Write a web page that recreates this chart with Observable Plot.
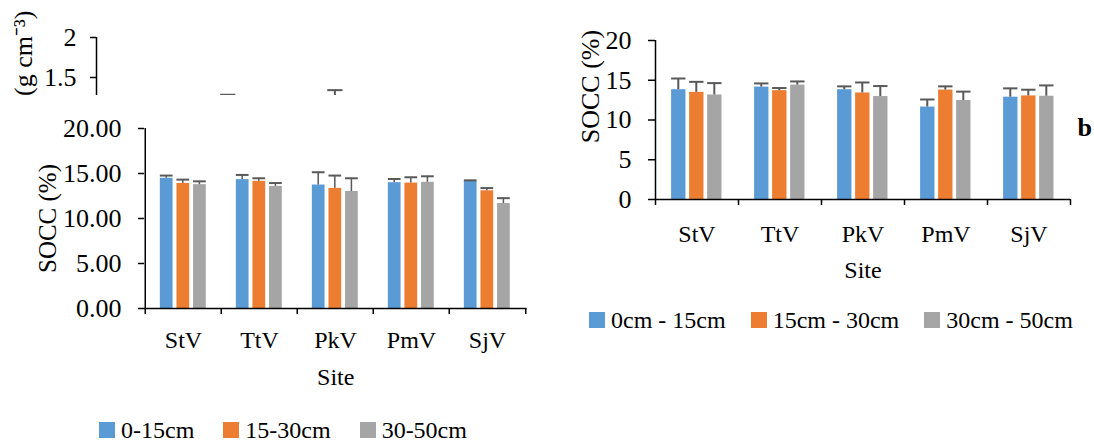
<!DOCTYPE html>
<html><head><meta charset="utf-8">
<script src="https://cdn.jsdelivr.net/npm/d3@7"></script>
<script src="https://cdn.jsdelivr.net/npm/@observablehq/plot@0.6"></script>
<style>
html,body{margin:0;padding:0;background:#fff;}
#wrap{position:relative;width:1094px;height:442px;overflow:hidden;font-family:'Liberation Serif','Times New Roman',serif;font-size:24px;color:#000;}
.box{position:absolute;overflow:hidden;}
.legend{position:absolute;display:flex;align-items:center;white-space:nowrap;line-height:1.1;}
.item{display:flex;align-items:center;gap:6px;}
.sw{display:inline-block;width:16px;height:16px;}
</style></head><body><div id="wrap"></div>
<script>
// ---------- data ----------
const sites = ["StV", "TtV", "PkV", "PmV", "SjV"];
const colors = ["#5B9BD5", "#ED7D31", "#A5A5A5"];
const depthsA = ["0-15cm", "15-30cm", "30-50cm"];
const depthsB = ["0cm - 15cm", "15cm - 30cm", "30cm - 50cm"];

// chart a (left): SOCC (%) means and error (+) per depth
const socA_0_15  = [14.47, 14.32, 13.72, 13.98, 14.13];
const socA_15_30 = [13.90, 14.13, 13.35, 13.94, 13.08];
const socA_30_50 = [13.76, 13.57, 13.00, 14.02, 11.66];
const errA_0_15  = [0.30, 0.52, 1.42, 0.41, 0.11];
const errA_15_30 = [0.42, 0.34, 1.42, 0.64, 0.30];
const errA_30_50 = [0.37, 0.37, 1.47, 0.67, 0.60];

// chart b (right)
const socB_0_15  = [13.81, 14.14, 13.81, 11.63, 12.87];
const socB_15_30 = [13.48, 13.69, 13.40, 13.77, 13.03];
const socB_30_50 = [13.15, 14.39, 12.95, 12.45, 12.99];
const errB_0_15  = [1.41, 0.46, 0.42, 0.95, 1.11];
const errB_15_30 = [1.32, 0.33, 1.32, 0.46, 0.78];
const errB_30_50 = [1.49, 0.46, 1.32, 1.12, 1.36];

// cropped chart above (bulk density, g cm-3): only two error-bar tops are visible
const bdSites = ["TtV", "PkV"];
const bdDepthIdx = [1, 2];
const bdUpper = [1.284, 1.342];

const yTicksA = [0, 5, 10, 15, 20];
const yTicksB = [0, 5, 10, 15, 20];
const yTicksBD = [1.5, 2];

// ---------- helpers ----------
const errColor = "#595959";
const font = "'Liberation Serif','Times New Roman',serif";

function rowsFrom(means, errs) {
  return means.flatMap((arr, k) => sites.map((s, i) => ({site: s, k, value: arr[i], err: errs[k][i]})));
}

function geometry(bw) {
  const start = 0.194 * bw, step = 0.217 * bw, w = 0.173 * bw;
  return [0, 1, 2].map(k => {
    const l = start + k * step;
    return {l, r: bw - l - w, c: l + w / 2};
  });
}

function barChart(o) {
  const bw = (o.width - o.marginLeft - o.marginRight) / sites.length;
  const innerH = o.height - o.marginTop - o.marginBottom;
  const g = geometry(bw);
  const marks = [];
  for (let k = 0; k < 3; k++) {
    const rk = o.rows.filter(d => d.k === k);
    marks.push(Plot.barY(rk, {x: "site", y: "value", fill: colors[k], insetLeft: g[k].l, insetRight: g[k].r}));
    marks.push(Plot.barY(rk, {x: "site", y1: "value", y2: d => d.value + d.err, fill: errColor,
      insetLeft: g[k].c - 1, insetRight: bw - g[k].c - 1}));
    marks.push(Plot.tickY(rk, {x: "site", y: d => d.value + d.err, stroke: errColor, strokeWidth: 2,
      insetLeft: g[k].l, insetRight: g[k].r}));
  }
  marks.push(
    Plot.ruleY([o.yDomain[0]], {stroke: "#000", strokeWidth: 1.5}),
    Plot.ruleX([sites[0]], {x: d => d, dx: -bw / 2, y1: o.yDomain[0], y2: o.yDomain[1], stroke: "#000", strokeWidth: 1.5}),
    Plot.ruleX(sites, {x: d => d, dx: -bw / 2, insetTop: innerH, insetBottom: -6, stroke: "#000", strokeWidth: 1.5}),
    Plot.ruleX([sites[sites.length - 1]], {x: d => d, dx: bw / 2, insetTop: innerH, insetBottom: -6, stroke: "#000", strokeWidth: 1.5}),
    Plot.axisY({ticks: o.yTicks, tickFormat: o.fmt, tickSize: o.tickSize, tickPadding: o.tickPadding,
      strokeWidth: 1.5, stroke: "#000", fill: "#000", fontSize: o.tickFont, label: null}),
    Plot.axisX({tickSize: 0, tickPadding: o.xPad, fill: "#000", fontSize: 24, label: null}),
    Plot.text(["Site"], {text: d => d, frameAnchor: "bottom", textAnchor: "middle", lineAnchor: "bottom", dy: o.siteDy, fontSize: 24, fill: "#000"}),
    Plot.text(["SOCC (%)"], {text: d => d, frameAnchor: o.yLabelAnchor, textAnchor: "middle", lineAnchor: "middle",
      rotate: -90, dx: o.yLabelDx, dy: o.yLabelDy, fontSize: o.yLabelFont, fill: "#000"})
  );
  if (o.extra) marks.push(...o.extra);
  return Plot.plot({
    width: o.width, height: o.height,
    marginLeft: o.marginLeft, marginRight: o.marginRight, marginTop: o.marginTop, marginBottom: o.marginBottom,
    style: {fontFamily: font, fontSize: "24px", color: "#000", background: "none", overflow: "visible"},
    x: {type: "band", domain: sites, paddingInner: 0, paddingOuter: 0},
    y: {domain: o.yDomain},
    marks
  });
}

const wrap = document.getElementById("wrap");
function place(node, left, top, w, h) {
  const d = document.createElement("div");
  d.className = "box";
  d.style.left = left + "px"; d.style.top = top + "px";
  d.style.width = w + "px"; d.style.height = h + "px";
  d.appendChild(node);
  wrap.appendChild(d);
}

// ---------- cropped top chart ----------
{
  const width = 545, height = 96, marginLeft = 96, marginRight = 9, marginTop = 37;
  const bw = (width - marginLeft - marginRight) / sites.length;
  const g = geometry(bw);
  const rows = bdSites.map((s, i) => ({site: s, k: bdDepthIdx[i], upper: bdUpper[i]}));
  const yDomain = [1.2625, 2];
  const marks = [];
  for (let k = 0; k < 3; k++) {
    const rk = rows.filter(d => d.k === k);
    if (!rk.length) continue;
    marks.push(Plot.barY(rk, {x: "site", y1: yDomain[0], y2: "upper", fill: errColor,
      insetLeft: g[k].c - 1, insetRight: bw - g[k].c - 1}));
    marks.push(Plot.tickY(rk, {x: "site", y: "upper", stroke: errColor, strokeWidth: 2,
      insetLeft: g[k].l, insetRight: g[k].r}));
  }
  marks.push(
    Plot.ruleX([sites[0]], {x: d => d, dx: -bw / 2, y1: yDomain[0], y2: yDomain[1], stroke: "#000", strokeWidth: 1.5}),
    Plot.axisY({ticks: yTicksBD, tickFormat: d => String(d), tickSize: 6, tickPadding: 14,
      strokeWidth: 1.5, stroke: "#000", fill: "#000", fontSize: 26, label: null}),
    Plot.text(["(g cm⁻³)"], {text: d => d, frameAnchor: "top-left", rotate: -90, textAnchor: "end", lineAnchor: "middle",
      dx: -73, dy: -27, fontSize: 26, fill: "#000"})
  );
  const p = Plot.plot({
    width, height, marginLeft, marginRight, marginTop, marginBottom: 0,
    style: {fontFamily: font, fontSize: "24px", color: "#000", background: "none", overflow: "visible"},
    x: {type: "band", domain: sites, paddingInner: 0, paddingOuter: 0, axis: null},
    y: {domain: yDomain},
    marks
  });
  place(p, 0, 0, 545, 95);
}

// ---------- chart a ----------
place(barChart({
  rows: rowsFrom([socA_0_15, socA_15_30, socA_30_50], [errA_0_15, errA_15_30, errA_30_50]),
  width: 545, height: 400, marginLeft: 144, marginRight: 18.5, marginTop: 128, marginBottom: 92,
  yDomain: [0, 20], yTicks: yTicksA, fmt: d3.format(".2f"), tickSize: 6, tickPadding: 17, tickFont: 26, xPad: 22,
  siteDy: 76, yLabelAnchor: "left", yLabelDx: -97, yLabelDy: 0, yLabelFont: 25
}), 0, 0, 545, 400);

// ---------- chart b ----------
place(barChart({
  rows: rowsFrom([socB_0_15, socB_15_30, socB_30_50], [errB_0_15, errB_15_30, errB_30_50]),
  width: 549, height: 300, marginLeft: 110, marginRight: 24, marginTop: 40, marginBottom: 101,
  yDomain: [0, 20], yTicks: yTicksB, fmt: d3.format("d"), tickSize: 7, tickPadding: 17, tickFont: 26, xPad: 25,
  siteDy: 78, yLabelAnchor: "top-left", yLabelDx: -65, yLabelDy: 46, yLabelFont: 26,
  extra: [Plot.text(["b"], {text: d => d, frameAnchor: "top-right", textAnchor: "start", lineAnchor: "bottom",
    dx: 7, dy: 95, fontWeight: "bold", fontSize: 26, fill: "#000"})]
}), 545, 0, 549, 300);

// ---------- legends ----------
function legend(labels, left, top, gap) {
  const d = document.createElement("div");
  d.className = "legend";
  d.style.left = left + "px"; d.style.top = top + "px"; d.style.gap = gap + "px";
  labels.forEach((t, k) => {
    const it = document.createElement("div"); it.className = "item";
    const sw = document.createElement("span"); sw.className = "sw"; sw.style.background = colors[k];
    const tx = document.createElement("span"); tx.textContent = t;
    it.appendChild(sw); it.appendChild(tx); d.appendChild(it);
  });
  wrap.appendChild(d);
}
legend(depthsA, 99, 417, 29);
legend(depthsB, 589, 307, 25);
</script></body></html>
